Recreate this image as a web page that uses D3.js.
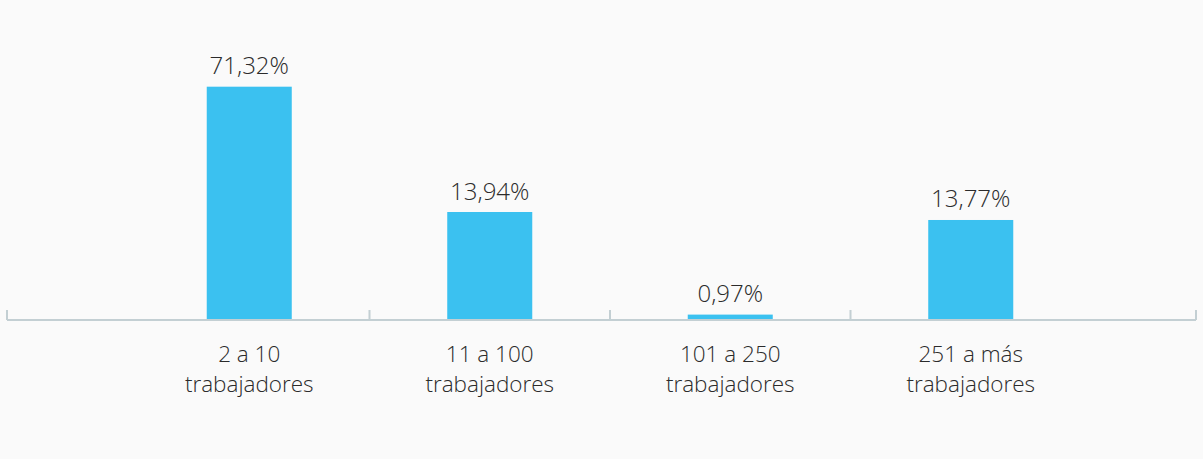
<!DOCTYPE html>
<html>
<head>
<meta charset="utf-8">
<script src="https://cdn.jsdelivr.net/npm/d3@7"></script>
<style>
  html, body { margin: 0; padding: 0; background: #fafafa; }
  svg { display: block; font-family: "Open Sans", sans-serif; }
</style>
</head>
<body>
<div id="chart"></div>
<script>
// categories, two lines each
var categories = ["2 a 10|trabajadores", "11 a 100|trabajadores", "101 a 250|trabajadores", "251 a más|trabajadores"];
// printed labels
var labels = ["71,32%", "13,94%", "0,97%", "13,77%"];
// bar heights as drawn in the source (they do not follow the printed labels)
var barValues = [71.32, 32.85, 1.35, 30.4];

var width = 1203, height = 459;
var margin = {top: 20, right: 7, bottom: 140, left: 7};
var innerW = width - margin.left - margin.right;
var innerH = height - margin.top - margin.bottom;

var svg = d3.select("#chart").append("svg")
    .attr("width", width)
    .attr("height", height);

var g = svg.append("g")
    .attr("transform", "translate(" + margin.left + "," + margin.top + ")");

var x = d3.scaleBand()
    .domain(categories)
    .range([122, 1084])
    .paddingInner(0.6465)
    .paddingOuter(0.6465 / 2);

var y = d3.scaleLinear()
    .domain([0, 71.32])
    .range([innerH, innerH - 232.3]);

// bars
g.selectAll(".bar")
    .data(categories)
    .enter().append("rect")
    .attr("class", "bar")
    .attr("x", function(d) { return x(d); })
    .attr("width", x.bandwidth())
    .attr("y", function(d, i) { return y(barValues[i]); })
    .attr("height", function(d, i) { return innerH - y(barValues[i]); })
    .style("fill", "#3bc1f0");

// value labels
g.selectAll(".value")
    .data(categories)
    .enter().append("text")
    .attr("class", "value")
    .attr("x", function(d) { return x(d) + x.bandwidth() / 2; })
    .attr("y", function(d, i) { return y(barValues[i]) - 12.5; })
    .style("text-anchor", "middle")
    .style("font-size", "24px")
    .style("font-weight", 300)
    .style("fill", "#2b2b2b")
    .text(function(d, i) { return labels[i]; });

// axis line + ticks
var axisColor = "#c3cfd3";
g.append("line")
    .attr("x1", 0).attr("x2", innerW)
    .attr("y1", innerH + 1).attr("y2", innerH + 1)
    .attr("stroke", axisColor)
    .attr("stroke-width", 2);

var tickX = [0, innerW].concat(categories.slice(1).map(function(d) { return x(d) - x.step() * x.paddingInner() / 2; }));
g.selectAll(".tick")
    .data(tickX)
    .enter().append("line")
    .attr("class", "tick")
    .attr("x1", function(d) { return d; })
    .attr("x2", function(d) { return d; })
    .attr("y1", innerH - 9)
    .attr("y2", innerH + 1)
    .attr("stroke", axisColor)
    .attr("stroke-width", 2);

// category labels
var cat = g.selectAll(".cat")
    .data(categories)
    .enter().append("text")
    .attr("class", "cat")
    .attr("x", function(d) { return x(d) + x.bandwidth() / 2; })
    .attr("y", innerH + 43)
    .style("text-anchor", "middle")
    .style("font-size", "22.5px")
    .style("font-weight", 300)
    .style("fill", "#2b2b2b");

cat.selectAll("tspan")
    .data(function(d) { return d.split("|"); })
    .enter().append("tspan")
    .attr("x", function() { return d3.select(this.parentNode).attr("x"); })
    .attr("dy", function(d, i) { return i === 0 ? 0 : 29.5; })
    .text(function(d) { return d; });
</script>
</body>
</html>
